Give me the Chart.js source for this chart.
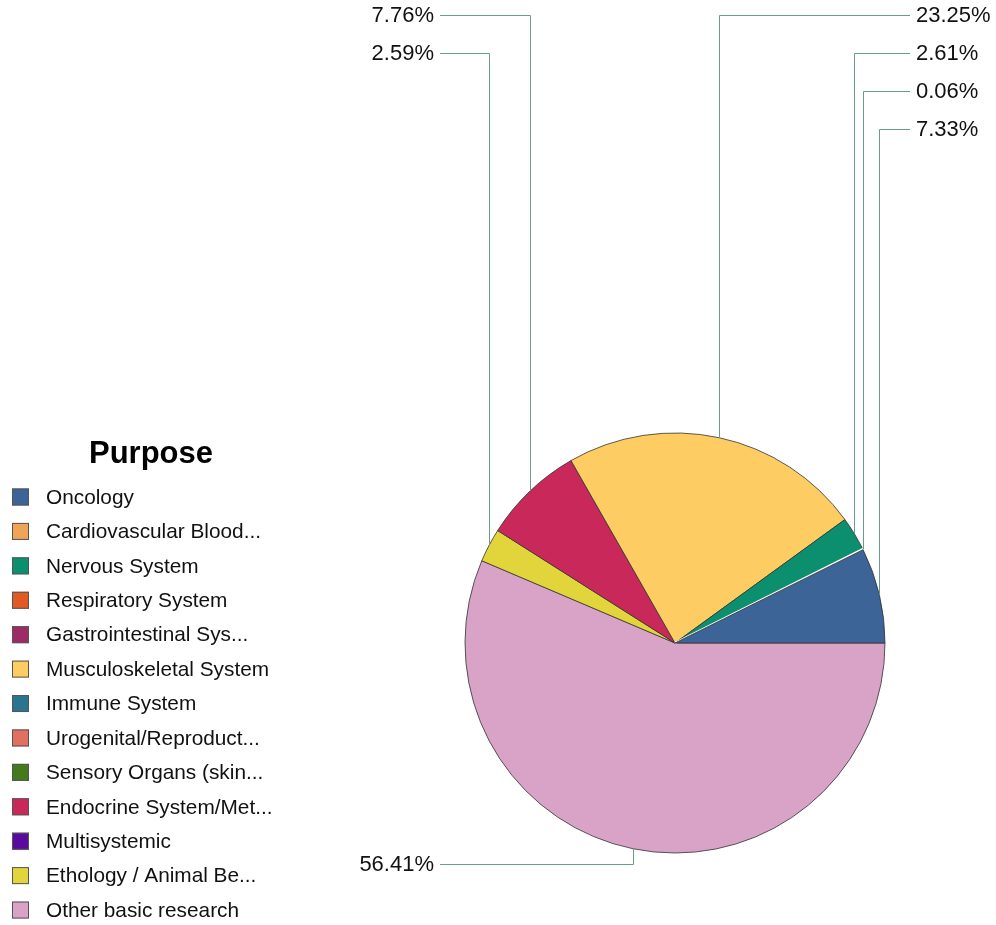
<!DOCTYPE html>
<html>
<head>
<meta charset="utf-8">
<script src="https://cdn.jsdelivr.net/npm/chart.js@4.4.1/dist/chart.umd.min.js"></script>
<style>
html,body{margin:0;padding:0;background:#fff;}
#wrap{width:996px;height:925px;position:relative;}
</style>
</head>
<body>
<div id="wrap"><canvas id="c" width="996" height="925"></canvas></div>
<script>
const categories = [
  "Oncology",
  "Cardiovascular Blood...",
  "Nervous System",
  "Respiratory System",
  "Gastrointestinal Sys...",
  "Musculoskeletal System",
  "Immune System",
  "Urogenital/Reproduct...",
  "Sensory Organs (skin...",
  "Endocrine System/Met...",
  "Multisystemic",
  "Ethology / Animal Be...",
  "Other basic research"
];
const percentages = [7.33, 0.06, 2.61, 0, 0, 23.25, 0, 0, 0, 7.76, 0, 2.59, 56.41];
const colors = [
  "#3c6497", "#f0a457", "#0b8f6e", "#e05a22", "#9d2b65", "#fdcc62", "#2a748f",
  "#e07061", "#447a1d", "#c9285a", "#5b0aa0", "#e2d53b", "#d9a3c8"
];
const legendTitle = "Purpose";

// Slices run counter-clockwise in the reference; Chart.js draws clockwise,
// so feed the library reversed copies.
const revLabels = categories.slice().reverse();
const revValues = percentages.slice().reverse();
const revColors = colors.slice().reverse();

const FONT = "'Liberation Sans', Arial, sans-serif";

const overlayPlugin = {
  id: 'overlay',
  afterDraw(chart) {
    const ctx = chart.ctx;
    const meta = chart.getDatasetMeta(0);
    const cx = (chart.chartArea.left + chart.chartArea.right) / 2;
    const cy = (chart.chartArea.top + chart.chartArea.bottom) / 2;
    const items = [];
    meta.data.forEach((arc, i) => {
      const v = revValues[i];
      if (!(v > 0)) return;
      const p = arc.getProps(['x', 'y', 'startAngle', 'endAngle', 'outerRadius'], true);
      const mid = (p.startAngle + p.endAngle) / 2;
      const px = p.x + p.outerRadius * Math.cos(mid);
      const py = p.y + p.outerRadius * Math.sin(mid);
      items.push({v, px, py, top: py < cy, right: px >= cx});
    });
    const groups = {tr: [], tl: [], br: [], bl: []};
    items.forEach(it => groups[(it.top ? 't' : 'b') + (it.right ? 'r' : 'l')].push(it));
    groups.tr.sort((a, b) => a.px - b.px);
    groups.tl.sort((a, b) => b.px - a.px);
    groups.br.sort((a, b) => a.px - b.px);
    groups.bl.sort((a, b) => b.px - a.px);
    const rowTop = 15, rowGap = 38, rowBottom = 864;
    const leftEnd = 440, rightEnd = 910;
    ctx.save();
    ctx.strokeStyle = '#6a9c8d';
    ctx.lineWidth = 1;
    ctx.fillStyle = '#111';
    ctx.font = '22px ' + FONT;
    ctx.textBaseline = 'middle';
    const drawItem = (it, rowY, right) => {
      const ex = right ? rightEnd : leftEnd;
      ctx.beginPath();
      ctx.moveTo(Math.round(it.px) + 0.5, it.py);
      ctx.lineTo(Math.round(it.px) + 0.5, rowY + 0.5);
      ctx.lineTo(ex, rowY + 0.5);
      ctx.stroke();
      ctx.textAlign = right ? 'left' : 'right';
      ctx.fillText(it.v.toFixed(2) + '%', right ? ex + 6 : ex - 6, rowY + 1);
    };
    groups.tr.forEach((it, i) => drawItem(it, rowTop + rowGap * i, true));
    groups.tl.forEach((it, i) => drawItem(it, rowTop + rowGap * i, false));
    groups.br.forEach((it, i) => drawItem(it, rowBottom - rowGap * i, true));
    groups.bl.forEach((it, i) => drawItem(it, rowBottom - rowGap * i, false));

    // Legend
    ctx.textAlign = 'center';
    ctx.fillStyle = '#000';
    ctx.font = 'bold 31px ' + FONT;
    ctx.fillText(legendTitle, 151, 454);
    ctx.font = '20.8px ' + FONT;
    ctx.textAlign = 'left';
    categories.forEach((name, i) => {
      const yc = 497 + 34.42 * i;
      ctx.fillStyle = colors[i];
      ctx.fillRect(12, yc - 8.5, 17, 17);
      ctx.strokeStyle = '#555';
      ctx.lineWidth = 1;
      ctx.strokeRect(12.5, yc - 8, 16, 16);
      ctx.fillStyle = '#111';
      ctx.fillText(name, 46, yc + 1);
    });
    ctx.restore();
  }
};

new Chart(document.getElementById('c'), {
  type: 'pie',
  data: {
    labels: revLabels,
    datasets: [{
      data: revValues,
      backgroundColor: revColors,
      borderColor: (c) => (categories[categories.length - 1 - c.dataIndex] === "Cardiovascular Blood..." ? '#ffffff' : '#333333'),
      borderWidth: (c) => {
        const v = revValues[c.dataIndex];
        if (!(v > 0)) return 0;
        return v < 0.1 ? 2 : 0.8;
      }
    }]
  },
  options: {
    responsive: false,
    animation: false,
    rotation: 90,
    layout: {padding: {left: 464, right: 110, top: 432, bottom: 71}},
    plugins: {
      legend: {display: false},
      tooltip: {enabled: false}
    }
  },
  plugins: [overlayPlugin]
});
</script>
</body>
</html>
